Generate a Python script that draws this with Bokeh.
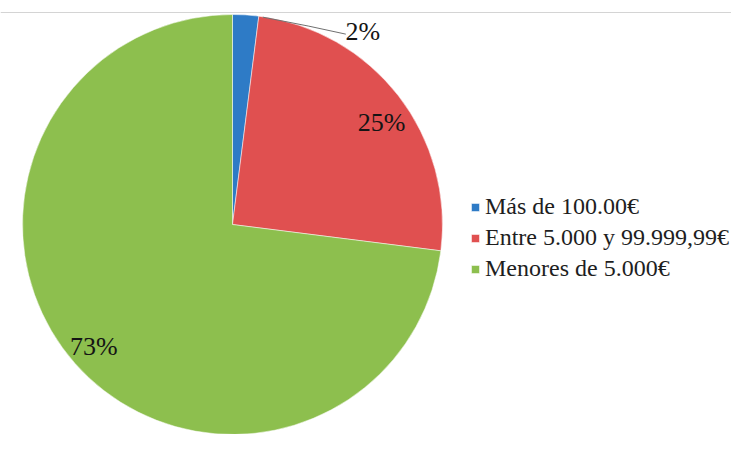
import math
from bokeh.plotting import figure
from bokeh.models import Range1d, Legend, LegendItem, Span
from bokeh.core.properties import value
from bokeh.embed import file_html
from bokeh.resources import INLINE

# ---- data ----
categories = ["Más de 100.00€", "Entre 5.000 y 99.999,99€", "Menores de 5.000€"]
shares = [2, 25, 73]
labels = ["2%", "25%", "73%"]
colors = ["#2E7BC6", "#E05050", "#8DBF4E"]

# ---- layout ----
W, H = 731, 434
CX, CY, R = 232, 210, 210
FONT = "Liberation Serif"
label_r = [1.0, 0.86, 0.88]
label_da = [0.0, -3.4, 0.0]   # degrees of angular nudge

p = figure(width=W, height=H, output_backend="svg", toolbar_location=None,
           x_range=Range1d(0, W), y_range=Range1d(0, H),
           x_axis_type=None, y_axis_type=None, min_border=0)
p.grid.visible = False
p.outline_line_color = None
p.background_fill_color = "white"

p.add_layout(Span(location=H - 12, dimension="width", line_color="#d4d4d4", line_width=1))

total = sum(shares)
starts, ends, mids = [], [], []
acc = 0.0
for s in shares:
    a0 = math.pi / 2 - 2 * math.pi * acc / total
    acc += s
    a1 = math.pi / 2 - 2 * math.pi * acc / total
    starts.append(a0); ends.append(a1); mids.append((a0 + a1) / 2)

renderers = []
for i in range(len(shares)):
    r = p.wedge(x=CX, y=CY, radius=R, start_angle=starts[i], end_angle=ends[i],
                direction="clock", fill_color=colors[i], line_color="white",
                line_width=1, line_alpha=0.5)
    renderers.append(r)

# in-slice labels
lx, ly, lt = [], [], []
for i in (1, 2):
    a = mids[i] + math.radians(label_da[i])
    lx.append(CX + R * label_r[i] * math.cos(a))
    ly.append(CY + R * label_r[i] * math.sin(a))
    lt.append(labels[i])
p.text(x=lx, y=ly, text=lt, text_font=value(FONT), text_font_size="26px",
       text_align="center", text_baseline="middle", text_color="#141414")

# outside label for the small slice with leader line
ex = CX + R * math.cos(ends[0])
ey = CY + R * math.sin(ends[0])
tx, ty = ex + 104, ey - 15
p.line(x=[ex + 4, ex + 50, tx - 17], y=[ey - 1, ey - 10, ty - 3], line_color="#707070", line_width=1)
p.text(x=[tx], y=[ty], text=[labels[0]], text_font=value(FONT), text_font_size="26px",
       text_align="center", text_baseline="middle", text_color="#141414")

legend = Legend(items=[LegendItem(label=categories[i], renderers=[renderers[i]]) for i in range(3)],
                location=(470, 150), orientation="vertical",
                label_text_font=FONT, label_text_font_size="24px", label_text_color="#1e1e1e",
                glyph_width=10, glyph_height=10, label_standoff=5, label_height=31,
                spacing=0, padding=0, margin=0, border_line_color=None,
                background_fill_alpha=0)
p.add_layout(legend, "center")

open("out.html", "w").write(file_html(p, INLINE))
